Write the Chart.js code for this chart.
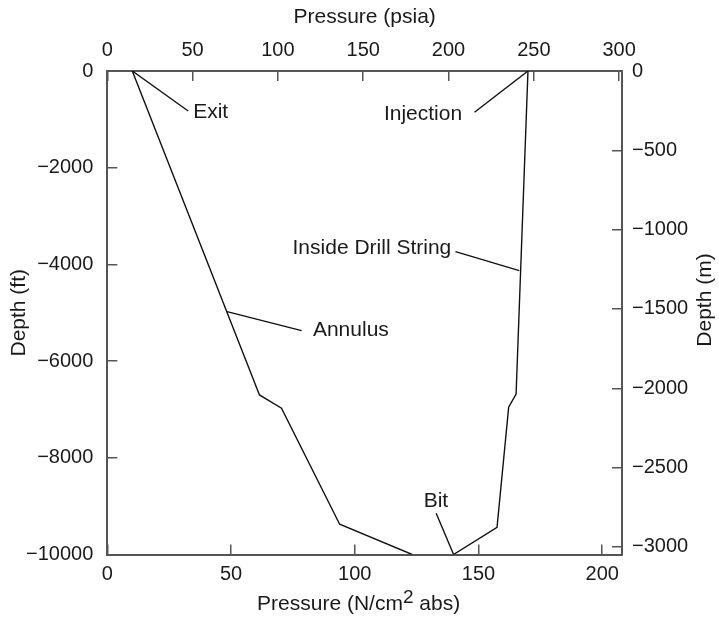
<!DOCTYPE html>
<html>
<head>
<meta charset="utf-8">
<script src="https://cdn.jsdelivr.net/npm/chart.js@4.4.0/dist/chart.umd.min.js"></script>
<style>
html, body { margin: 0; padding: 0; background: #fff; }
#wrap { width: 719px; height: 617px; }
</style>
</head>
<body>
<div id="wrap"><canvas id="chart" width="719" height="617"></canvas></div>
<script>
// pressure in N/cm2 abs, depth in ft
const annulusPressure = [10.1, 61.5, 70.4, 93.9, 123.2];
const annulusDepth = [0, -6700, -6975, -9374, -10000];
const drillPressure = [170.0, 165.2, 162.2, 157.5, 139.9];
const drillDepth = [0, -6680, -6955, -9440, -10000];

// tick labels of the four axes
const nTicks = [0, 50, 100, 150, 200];
const psiaTicks = [0, 50, 100, 150, 200, 250, 300];
const ftTicks = [0, -2000, -4000, -6000, -8000, -10000];
const mTicks = [0, -500, -1000, -1500, -2000, -2500, -3000];

// callouts: text, leader line start/end and text anchor (N/cm2, ft)
const labelNames = ['Exit', 'Injection', 'Inside Drill String', 'Annulus', 'Bit'];
const leaderFrom = [[10.1, 0], [170.0, 0], [166.5, -4130], [48.4, -4978], [139.9, -9995]];
const leaderTo = [[32.7, -827], [148.4, -854], [140.7, -3737], [78.5, -5371], [132.9, -9147]];
const labelAt = [[34.7, -842], [143.4, -890], [139.0, -3667], [83.1, -5356], [132.8, -8893]];
const labelAlign = ['left', 'right', 'right', 'left', 'center'];

const xMax = 208;
const psiaMax = xMax / 0.689476;
const ftMin = -10000;
const mMin = ftMin * 0.3048;

const FONT = '"Liberation Sans", Arial, sans-serif';
const axisColor = '#555';
const textColor = '#1a1a1a';

const toPts = (xs, ys) => xs.map((v, i) => ({ x: v, y: ys[i] }));
const minus = v => String(v).replace('-', '\u2212');

const datasets = [
  { data: toPts(annulusPressure, annulusDepth) },
  { data: toPts(drillPressure, drillDepth) }
];
leaderFrom.forEach((p, i) => {
  datasets.push({ data: [{ x: p[0], y: p[1] }, { x: leaderTo[i][0], y: leaderTo[i][1] }] });
});
datasets.forEach(d => {
  d.showLine = true;
  d.borderColor = '#111';
  d.borderWidth = 1.4;
  d.pointRadius = 0;
  d.xAxisID = 'x';
  d.yAxisID = 'y';
});

function axis(position, min, max, ticks, size, pad) {
  return {
    type: 'linear',
    position: position,
    display: true,
    min: min,
    max: max,
    afterBuildTicks: s => { s.ticks = ticks.map(v => ({ value: v })); },
    afterFit: s => {
      if (position === 'top' || position === 'bottom') s.height = size; else s.width = size;
    },
    grid: { drawOnChartArea: false, drawTicks: true, tickLength: -10, color: axisColor, lineWidth: 1.5 },
    border: { display: true, color: axisColor, width: 2 },
    ticks: {
      autoSkip: false,
      maxRotation: 0,
      padding: pad,
      color: textColor,
      font: { family: FONT, size: 20 },
      callback: v => minus(v)
    }
  };
}

const scales = {
  x: axis('bottom', 0, xMax, nTicks, 62.5, 18),
  x2: axis('top', 0, psiaMax, psiaTicks, 71, 19),
  y: axis('left', ftMin, 0, ftTicks, 107.3, 24),
  y2: axis('right', mMin, 0, mTicks, 97, 20)
};
scales.x2.title = { display: true, text: 'Pressure (psia)', color: textColor, font: { family: FONT, size: 21 }, padding: { top: 5, bottom: 0 } };
scales.y.title = { display: true, text: 'Depth (ft)', color: textColor, font: { family: FONT, size: 21 }, padding: { top: 7, bottom: 0 } };

const textPlugin = {
  id: 'texts',
  afterDraw(chart) {
    const ctx = chart.ctx;
    const x = chart.scales.x, y = chart.scales.y;
    ctx.save();
    ctx.fillStyle = textColor;
    ctx.font = '21px ' + FONT;
    ctx.textBaseline = 'middle';
    labelNames.forEach((t, i) => {
      ctx.textAlign = labelAlign[i];
      ctx.fillText(t, x.getPixelForValue(labelAt[i][0]), y.getPixelForValue(labelAt[i][1]));
    });

    // bottom axis title, with a raised 2
    const a = 'Pressure (N/cm', b = '2', c = ' abs)';
    ctx.font = '21px ' + FONT;
    const wa = ctx.measureText(a).width, wc = ctx.measureText(c).width;
    ctx.font = '19px ' + FONT;
    const wb = ctx.measureText(b).width;
    let tx = (chart.chartArea.left + chart.chartArea.right) / 2 - 6 - (wa + wb + wc) / 2;
    const ty = 604;
    ctx.textAlign = 'left';
    ctx.font = '21px ' + FONT;
    ctx.fillText(a, tx, ty);
    ctx.font = '19px ' + FONT;
    ctx.fillText(b, tx + wa, ty - 6);
    ctx.font = '21px ' + FONT;
    ctx.fillText(c, tx + wa + wb, ty);

    // right axis title, reading upwards like the left one
    ctx.translate(705, 300);
    ctx.rotate(-Math.PI / 2);
    ctx.textAlign = 'center';
    ctx.fillText('Depth (m)', 0, 0);
    ctx.restore();
  }
};

new Chart(document.getElementById('chart').getContext('2d'), {
  type: 'scatter',
  data: { datasets: datasets },
  options: {
    responsive: false,
    animation: false,
    layout: { padding: 0 },
    plugins: { legend: { display: false }, tooltip: { enabled: false } },
    scales: scales
  },
  plugins: [textPlugin]
});
</script>
</body>
</html>
